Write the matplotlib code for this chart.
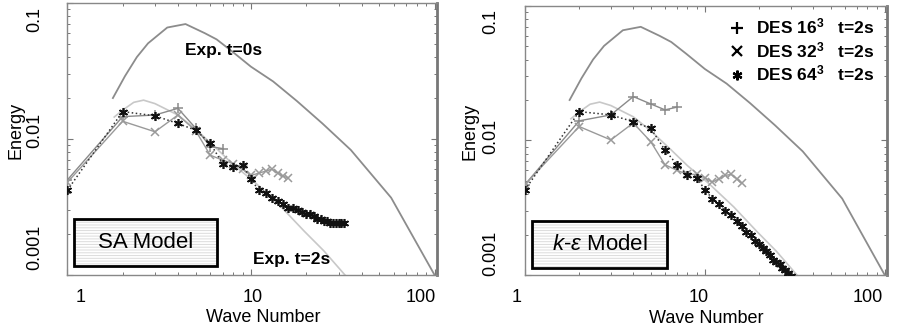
"""Energy spectra of decaying isotropic turbulence: DES vs experiment (SA and k-eps)."""

import matplotlib

matplotlib.use("Agg")
import matplotlib.pyplot as plt  # noqa: E402
from matplotlib.lines import Line2D  # noqa: E402
from matplotlib.patches import Rectangle  # noqa: E402
from matplotlib.ticker import LogLocator, NullFormatter  # noqa: E402
from matplotlib.transforms import ScaledTranslation, blended_transform_factory  # noqa: E402

plt.rcParams["font.family"] = ["Liberation Sans", "DejaVu Sans"]
plt.rcParams["mathtext.fontset"] = "custom"
plt.rcParams["mathtext.rm"] = "Liberation Sans"
plt.rcParams["mathtext.it"] = "Liberation Sans:italic"
plt.rcParams["mathtext.bf"] = "Liberation Sans:bold"
plt.rcParams["hatch.linewidth"] = 1.3

# experiment (same in both panels)
exp0_k = [1.77, 2.06, 2.39, 2.75, 3.5, 4.4, 5.6, 6.5, 7.9, 10.0, 13.2, 17.8, 24.5, 35, 58, 72, 100]
exp0_e = [0.0200, 0.0290, 0.0400, 0.0505, 0.0660, 0.0700, 0.0600, 0.0540, 0.0440, 0.0340,
          0.0265, 0.0190, 0.0130, 0.0083, 0.0037, 0.0022, 0.0010]
exp2_k = [1.8, 2.0, 2.3, 2.6, 3.0, 4.0, 5.0, 6.5, 8.0, 10.5, 14.5, 19.5, 25.0, 32.5]
exp2_e = [0.0145, 0.0163, 0.0186, 0.0193, 0.0182, 0.0150, 0.0118, 0.0085, 0.0065, 0.0048,
          0.0032, 0.0021, 0.0015, 0.0010]

# DES wave numbers
wn16 = [1, 2, 3, 4, 5, 6, 7]
wn32 = [1, 2, 3, 4, 5, 6, 7, 8, 9, 10, 11, 12, 13, 14, 15, 16]
wn64 = [1, 2, 3, 4, 5, 6, 7, 8, 9, 10, 11, 12, 13, 14, 15, 16,
        17, 18, 19, 20, 21, 22, 23, 24, 25, 26, 27, 28, 29, 30, 31, 32]

# SA model
sa_16 = [0.0050, 0.0146, 0.0150, 0.0168, 0.0120, 0.0088, 0.0085]
sa_32 = [0.0048, 0.0135, 0.0113, 0.0150, 0.0115, 0.0076, 0.0070, 0.0066, 0.0060, 0.0054,
         0.0056, 0.0058, 0.0060, 0.0056, 0.0053, 0.0052]
sa_64 = [0.0042, 0.0159, 0.0148, 0.0130, 0.0116, 0.0093, 0.0066, 0.0062, 0.0064, 0.0051,
         0.0042, 0.0040, 0.0037, 0.0035, 0.0033, 0.0031, 0.0031, 0.0030, 0.0029, 0.0028,
         0.0028, 0.0027, 0.0026, 0.0026, 0.0025, 0.0025, 0.0024, 0.0024, 0.0024, 0.0024,
         0.0024, 0.0024]

# k-epsilon model
ke_16 = [0.0047, 0.0140, 0.0155, 0.0212, 0.0187, 0.0169, 0.0177]
ke_32 = [0.0047, 0.0127, 0.0101, 0.0135, 0.0098, 0.0066, 0.0060, 0.0056, 0.0056, 0.0053,
         0.0049, 0.0052, 0.0055, 0.0056, 0.0052, 0.0048]
ke_64 = [0.0043, 0.0164, 0.0155, 0.0138, 0.0123, 0.0085, 0.0066, 0.0055, 0.0053, 0.0043,
         0.0037, 0.0034, 0.0030, 0.0028, 0.0025, 0.0023, 0.0021, 0.0020, 0.0018, 0.0017,
         0.0016, 0.0015, 0.0014, 0.0013, 0.00125, 0.0012, 0.00113, 0.00108, 0.00103, 0.00098,
         0.00094, 0.0009]

y_ticks = [0.1, 0.01, 0.001]
y_tick_labels = ["0.1", "0.01", "0.001"]
x_ticks = [1, 10, 100]
x_tick_labels = ["1", "10", "100"]

ASTERISK = (6, 2, 0)

fig = plt.figure(figsize=(8.97, 3.31), dpi=100)
ax_sa = fig.add_axes([0.0751, 0.1692, 0.4120, 0.8218])
ax_ke = fig.add_axes([0.5853, 0.1692, 0.4036, 0.8127])


def px(dx, dy):
    return ScaledTranslation(dx / 100.0, -dy / 100.0, fig.dpi_scale_trans)


def style_axes(ax, xoffs, yoffs, xlab_y, ylab_x, xlabel_xy, ylabel_xy):
    ax.set_xscale("log")
    ax.set_yscale("log")
    ax.set_xlim(1, 103)
    ax.set_ylim(0.001, 0.1)
    ax.xaxis.set_major_locator(LogLocator(base=10, numticks=10))
    ax.yaxis.set_major_locator(LogLocator(base=10, numticks=10))
    ax.xaxis.set_minor_locator(LogLocator(base=10, subs=range(2, 10), numticks=20))
    ax.yaxis.set_minor_locator(LogLocator(base=10, subs=range(2, 10), numticks=20))
    ax.xaxis.set_minor_formatter(NullFormatter())
    ax.yaxis.set_minor_formatter(NullFormatter())
    ax.tick_params(which="both", direction="in", top=True, right=True,
                   labelbottom=False, labelleft=False, color="#777777")
    ax.tick_params(which="major", length=4, width=0.8)
    ax.tick_params(which="minor", length=2.5, width=0.7)
    for sp in ax.spines.values():
        sp.set_color("#888888")
        sp.set_linewidth(1.0)
    ax.spines["right"].set_linewidth(2.0)
    ax.spines["right"].set_color("#777777")

    # tick labels sit slightly off their ticks in the original figure
    tx = blended_transform_factory(ax.transData, ax.transAxes)
    for val, lab, off in zip(x_ticks, x_tick_labels, xoffs):
        ax.text(val, xlab_y, lab, transform=tx + px(off, 0), ha="center", va="center",
                fontsize=13)
    ty = blended_transform_factory(ax.transAxes, ax.transData)
    for val, lab, off in zip(y_ticks, y_tick_labels, yoffs):
        ax.text(ylab_x, val, lab, transform=ty + px(0, off), ha="center", va="center",
                rotation=90, fontsize=13)

    ax.set_xlabel("Wave Number", fontsize=13)
    ax.set_ylabel("Energy", fontsize=13)
    ax.xaxis.label.set_va("center")
    ax.yaxis.label.set_va("center")
    ax.xaxis.set_label_coords(*xlabel_xy)
    ax.yaxis.set_label_coords(*ylabel_xy)


def draw_series(ax, d16, d32, d64):
    ax.plot(exp0_k, exp0_e, color="#8c8c8c", lw=1.3, zorder=2)
    ax.plot(exp2_k, exp2_e, color="#c8c8c8", lw=1.2, zorder=2)
    ax.plot(wn16, d16, color="#8a8a8a", lw=1.0, marker="+", ms=7, mew=1.1, zorder=3)
    ax.plot(wn32, d32, color="#9a9a9a", lw=1.0, marker="x", ms=6, mew=1.1, zorder=3)
    ax.plot(wn64, d64, color="#333333", lw=1.1, ls=":", marker=ASTERISK, ms=6.5, mew=1.2,
            markeredgecolor="#111111", zorder=4)


def model_box(ax, x0, y0, w, h, label):
    ax.add_patch(Rectangle((x0, y0), w, h, transform=ax.transAxes, facecolor="#dcdcdc",
                           edgecolor="white", hatch="------", lw=0, zorder=5))
    ax.add_patch(Rectangle((x0, y0), w, h, transform=ax.transAxes, fill=False,
                           edgecolor="black", lw=2.0, zorder=6))
    ax.text(x0 + w / 2, y0 + h / 2, label, transform=ax.transAxes, ha="center",
            va="center", fontsize=16, zorder=7)


draw_series(ax_sa, sa_16, sa_32, sa_64)
draw_series(ax_ke, ke_16, ke_32, ke_64)

style_axes(ax_sa, xoffs=[13.6, 2, -14], yoffs=[17, -9, -28], xlab_y=-0.081, ylab_x=-0.088,
           xlabel_xy=(0.529, -0.158), ylabel_xy=(-0.139, 0.533))
style_axes(ax_ke, xoffs=[-8, -6, -17], yoffs=[16, -4, -22], xlab_y=-0.082, ylab_x=-0.094,
           xlabel_xy=(0.50, -0.16), ylabel_xy=(-0.152, 0.532))

model_box(ax_sa, 0.018, 0.033, 0.387, 0.173, "SA Model")
model_box(ax_ke, 0.019, 0.026, 0.373, 0.174, r"$k$-$\varepsilon$ Model")

ax_sa.text(4.37, 0.045, "Exp. t=0s", fontsize=12.5, fontweight="bold", ha="left", va="center")
ax_sa.text(10.3, 0.00129, "Exp. t=2s", fontsize=12.5, fontweight="bold", ha="left",
           va="center")

handles = [
    Line2D([], [], ls="none", marker="+", color="black", ms=9, mew=1.6),
    Line2D([], [], ls="none", marker="x", color="black", ms=7, mew=1.6),
    Line2D([], [], ls="none", marker=ASTERISK, color="black", ms=7, mew=1.6),
]
labels = [
    r"DES 16$^{\mathbf{3}}$   t=2s",
    r"DES 32$^{\mathbf{3}}$   t=2s",
    r"DES 64$^{\mathbf{3}}$   t=2s",
]
ax_ke.legend(handles, labels, loc="upper right", bbox_to_anchor=(0.985, 0.985), frameon=False,
             prop={"weight": "bold", "size": 12.5}, handlelength=0.8, handletextpad=0.7,
             labelspacing=0.2, borderaxespad=0.0)

fig.savefig("out.png", dpi=100)
